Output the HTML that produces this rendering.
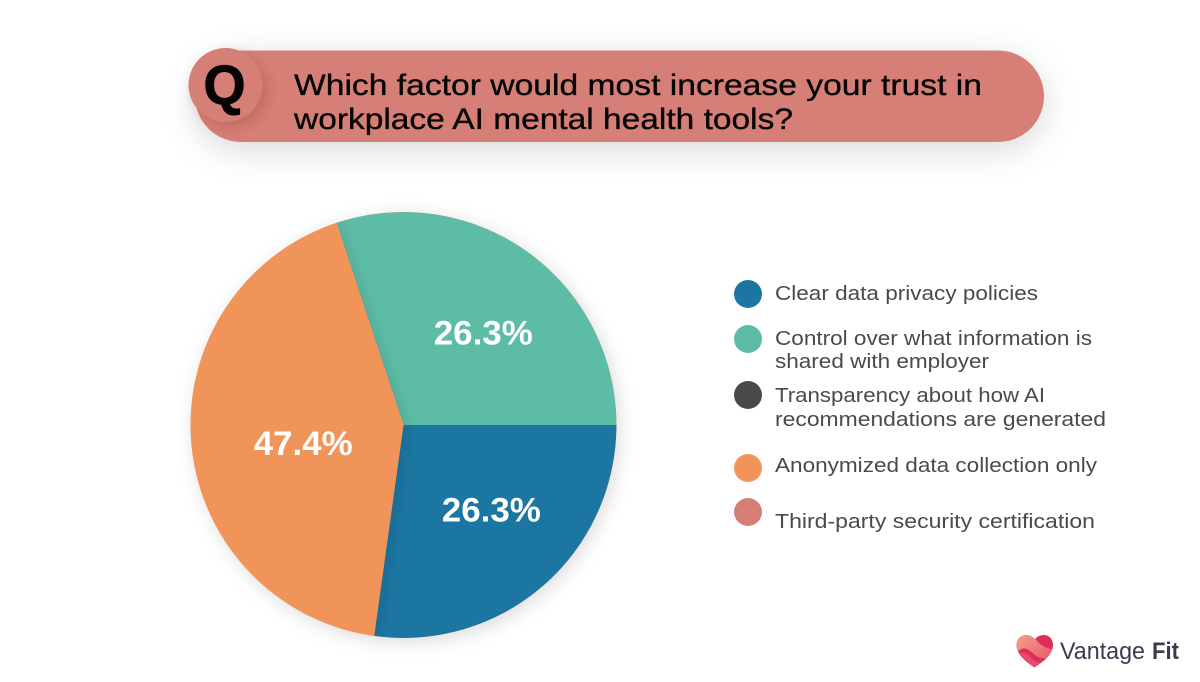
<!DOCTYPE html>
<html lang="en">
<head>
<meta charset="utf-8">
<title>Which factor would most increase your trust in workplace AI mental health tools?</title>
<style>
  html, body { margin: 0; padding: 0; background: #ffffff; }
  body { width: 1200px; height: 682px; overflow: hidden; }
  svg { display: block; font-family: "Liberation Sans", sans-serif; }
</style>
</head>
<body>
<svg id="chart" xmlns="http://www.w3.org/2000/svg" width="1200" height="682" viewBox="0 0 1200 682">
  <defs>
    <filter id="pill-shadow" x="-10%" y="-60%" width="120%" height="240%">
      <feDropShadow dx="0" dy="8" stdDeviation="17" flood-color="#000" flood-opacity="0.15"/>
    </filter>
    <filter id="badge-shadow" x="-50%" y="-50%" width="200%" height="200%">
      <feDropShadow dx="5" dy="5" stdDeviation="6" flood-color="#7a2f28" flood-opacity="0.25"/>
    </filter>
    <filter id="pie-shadow" x="-15%" y="-15%" width="130%" height="130%">
      <feDropShadow dx="3" dy="4" stdDeviation="9" flood-color="#000" flood-opacity="0.14"/>
    </filter>
    <filter id="slice-shadow" x="-15%" y="-15%" width="130%" height="130%">
      <feDropShadow dx="4" dy="0" stdDeviation="6" flood-color="#000" flood-opacity="0.1"/>
    </filter>
    <clipPath id="pie-clip"><circle cx="403.5" cy="425" r="213"/></clipPath>
    <clipPath id="heart-clip">
      <path d="M1034.5 667.5 C1027 662.5 1016.5 655 1016.5 645 C1016.5 638.8 1021 635 1026 635 C1030 635 1033 636.8 1034.8 639.5 C1036.6 636.8 1040 635 1044 635 C1049 635 1053 639 1053 645 C1053 655 1042 662.5 1034.5 667.5 Z"/>
    </clipPath>
    <linearGradient id="heart-base" x1="0" y1="0" x2="0.6" y2="1">
      <stop offset="0" stop-color="#d92a55"/>
      <stop offset="1" stop-color="#e0335c"/>
    </linearGradient>
    <linearGradient id="heart-band" x1="0" y1="0" x2="1" y2="0.6">
      <stop offset="0" stop-color="#f5a48e"/>
      <stop offset="1" stop-color="#ea6474"/>
    </linearGradient>
  </defs>

  <g>
    <rect x="195" y="50.5" width="849" height="91.5" rx="45.75" fill="#d67f76" filter="url(#pill-shadow)"/>
    <circle cx="225.5" cy="85" r="37" fill="#d67f76" filter="url(#badge-shadow)"/>
    <text x="224.5" y="104" font-size="56" font-weight="700" text-anchor="middle" fill="#050505" stroke="#050505" stroke-width="1" textLength="42" lengthAdjust="spacingAndGlyphs">Q</text>
    <text x="294" y="95" font-size="29.5" fill="#060606" stroke="#060606" stroke-width="0.35" textLength="688" lengthAdjust="spacingAndGlyphs">Which factor would most increase your trust in</text>
    <text x="294" y="129" font-size="29.5" fill="#060606" stroke="#060606" stroke-width="0.35" textLength="499" lengthAdjust="spacingAndGlyphs">workplace AI mental health tools?</text>
  </g>

  <g id="pie"></g>

  <g font-size="20" fill="#4a4a4a">
    <g>
      <circle cx="748" cy="294" r="14" fill="#1b76a1"/>
      <text x="775" y="300" textLength="263" lengthAdjust="spacingAndGlyphs">Clear data privacy policies</text>
    </g>
    <g>
      <circle cx="748" cy="339" r="14" fill="#5dbca5"/>
      <text x="775" y="345" textLength="317" lengthAdjust="spacingAndGlyphs">Control over what information is</text>
      <text x="775" y="368" textLength="214" lengthAdjust="spacingAndGlyphs">shared with employer</text>
    </g>
    <g>
      <circle cx="748" cy="395" r="14" fill="#4a4a4a"/>
      <text x="775" y="402" textLength="270" lengthAdjust="spacingAndGlyphs">Transparency about how AI</text>
      <text x="775" y="426" textLength="331" lengthAdjust="spacingAndGlyphs">recommendations are generated</text>
    </g>
    <g>
      <circle cx="748" cy="468" r="14" fill="#f0945a"/>
      <text x="775" y="472" textLength="322" lengthAdjust="spacingAndGlyphs">Anonymized data collection only</text>
    </g>
    <g>
      <circle cx="748" cy="512" r="14" fill="#d67f76"/>
      <text x="775" y="528" textLength="320" lengthAdjust="spacingAndGlyphs">Third-party security certification</text>
    </g>
  </g>

  <g>
    <g clip-path="url(#heart-clip)">
      <rect x="1014" y="633" width="42" height="36" fill="url(#heart-base)"/>
      <path d="M1014 633 H1031 C1036 640 1041 648 1055 650 C1050 660 1041 660 1035 655 C1030 650 1024 646 1020 650 L1014 656 Z" fill="url(#heart-band)"/>
      <path d="M1018 654 C1024 650 1028 654 1032 659 C1036 663 1040 663 1043 661 L1034 669 Z" fill="#ee5f78" opacity="0.6"/>
    </g>
    <text x="1060" y="659" font-size="24" fill="#3b3b50" textLength="85" lengthAdjust="spacingAndGlyphs">Vantage</text>
    <text x="1152" y="659" font-size="24" font-weight="700" fill="#3b3b50" textLength="27" lengthAdjust="spacingAndGlyphs">Fit</text>
  </g>
</svg>

<script>
const categories = ["Clear data privacy policies", "Control over what information is shared with employer", "Transparency about how AI recommendations are generated", "Anonymized data collection only", "Third-party security certification"];
const drawnShares = [27.2, 30.1, 0, 42.7, 0];
// Percentages as printed on the chart.
const printedLabels = ["26.3%", "26.3%", "", "47.4%", ""];
const sliceColors = ["#1b76a1", "#5dbca5", "#4a4a4a", "#f0945a", "#d67f76"];

(function () {
  const NS = "http://www.w3.org/2000/svg";
  const pie = document.getElementById("pie");
  const cx = 403.5, cy = 425, radius = 213;
  const total = drawnShares.reduce(function (a, b) { return a + b; }, 0);
  function angleOf(share) { return share / total * 2 * Math.PI; }
  function polar(r, a) { return [cx + r * Math.cos(a), cy + r * Math.sin(a)]; }

  const backdrop = document.createElementNS(NS, "circle");
  
  
  backdrop.setAttribute("cx", cx);
  backdrop.setAttribute("cy", cy);
  backdrop.setAttribute("r", radius);
  backdrop.setAttribute("fill", "#f0945a");
  backdrop.setAttribute("filter", "url(#pie-shadow)");
  pie.appendChild(backdrop);

  const clipGroup = document.createElementNS(NS, "g");
  
  
  clipGroup.setAttribute("clip-path", "url(#pie-clip)");
  pie.appendChild(clipGroup);

  const labelGroup = document.createElementNS(NS, "g");
  
  
  pie.appendChild(labelGroup);

  // Wedges run clockwise from 3 o'clock, walking the categories in reverse after the first:
  // blue, salmon, orange, dark, green.
  const n = drawnShares.length;
  let start = 0;
  const arcs = [];
  for (let step = 0; step < n; step++) {
    const i = (n - step) % n;
    const sweep = angleOf(drawnShares[i]);
    arcs.push({ i: i, start: start, sweep: sweep });
    start += sweep;
  }

  // The largest slice is painted last so its soft edge shadow falls on its neighbours.
  const largest = drawnShares.indexOf(Math.max.apply(null, drawnShares));
  arcs.filter(function (a) { return a.i !== largest; }).concat(arcs.filter(function (a) { return a.i === largest; })).forEach(function (arc) {
    if (arc.sweep <= 0) { return; }
    const p0 = polar(radius, arc.start);
    const p1 = polar(radius, arc.start + arc.sweep);
    const large = arc.sweep > Math.PI ? 1 : 0;
    const path = document.createElementNS(NS, "path");
    path.setAttribute("d", "M" + cx + " " + cy + " L" + p0[0] + " " + p0[1] + " A" + radius + " " + radius + " 0 " + large + " 1 " + p1[0] + " " + p1[1] + " Z");
    path.setAttribute("fill", sliceColors[arc.i]);
    if (arc.i === largest) { path.setAttribute("filter", "url(#slice-shadow)"); }
    
    
    const tip = document.createElementNS(NS, "title");
    tip.textContent = categories[arc.i];
    path.appendChild(tip);
    clipGroup.appendChild(path);
  });

  arcs.forEach(function (arc) {
    if (arc.sweep <= 0 || !printedLabels[arc.i]) { return; }
    const mid = arc.start + arc.sweep / 2;
    const nudge = (arc.i === 1 ? 5 : -5) * Math.PI / 180;
    const labelRadius = arc.i === largest ? 102 : 122;
    const p = polar(labelRadius, mid + nudge);
    const t = document.createElementNS(NS, "text");
    t.setAttribute("x", p[0]);
    t.setAttribute("y", p[1] + 12);
    t.setAttribute("text-anchor", "middle");
    t.setAttribute("font-size", "34");
    t.setAttribute("font-weight", "700");
    t.setAttribute("fill", "#ffffff");
    t.setAttribute("textLength", "99");
    t.setAttribute("lengthAdjust", "spacingAndGlyphs");
    
    
    t.textContent = printedLabels[arc.i];
    labelGroup.appendChild(t);
  });
})();
</script>
</body>
</html>
